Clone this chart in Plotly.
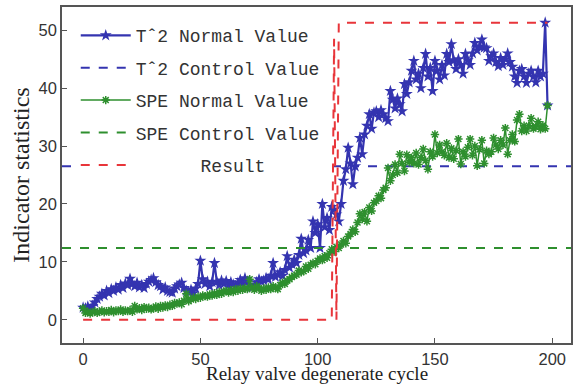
import plotly.graph_objects as go

cycles = list(range(0, 199))

t2_normal = [
    2.1, 2.0, 2.3, 1.9, 2.4, 3.0, 3.6, 4.0, 4.5, 4.2,
    5.0, 4.6, 5.3, 5.0, 5.6, 5.2, 6.0, 5.5, 6.3, 6.0,
    7.1, 6.2, 5.8, 6.4, 5.6, 6.0, 5.5, 6.2, 6.6, 6.9,
    7.2, 6.5, 6.0, 5.8, 5.2, 5.6, 5.0, 4.8, 4.7, 5.4,
    5.8, 6.1, 6.4, 5.5, 5.0, 4.8, 5.2, 4.6, 5.4, 6.2,
    10.2, 7.0, 6.2, 6.6, 5.8, 6.5, 9.8, 6.6, 6.0, 6.8,
    6.2, 6.7, 6.0, 6.5, 6.1, 5.8, 6.4, 6.9, 6.3, 7.2,
    6.6, 6.0, 5.6, 5.9, 6.5, 7.0, 6.6, 6.8, 7.2, 7.0,
    7.6, 9.8, 7.4, 7.8, 8.2, 7.6, 8.6, 11.0, 9.0, 9.6,
    10.4, 9.8, 11.2, 14.0, 11.5, 12.0, 13.8, 12.4, 17.0, 15.0,
    16.5, 12.4, 20.0, 16.0, 17.6, 15.5, 19.5, 19.0, 18.2, 17.0,
    20.0, 24.0, 26.0, 29.7, 27.0, 23.4, 26.5, 28.0, 31.4, 28.6,
    32.0, 33.5, 35.5, 33.0, 35.8, 36.0, 35.0, 36.2, 35.5, 34.8,
    34.3, 39.5, 38.0, 36.5, 38.2, 37.2, 36.0, 40.7, 39.0, 41.0,
    43.0, 44.7, 41.5, 42.5, 40.0, 43.5, 45.9, 42.0, 43.5, 39.5,
    44.7, 43.0, 41.5, 44.0, 42.2, 45.9, 44.5, 47.6, 44.8, 43.3,
    45.0, 44.0, 42.5, 45.9, 44.8, 44.0, 46.0, 47.8, 46.5, 47.2,
    48.4, 47.0, 46.9, 44.7, 45.5, 46.0, 44.5, 43.8, 45.2, 44.0,
    45.0, 46.0, 44.5, 43.7, 42.0, 40.9, 43.0, 43.3, 42.0, 40.9,
    42.5, 43.0, 42.0, 41.0, 43.0, 42.0, 42.5, 51.3, 37.0,
]

spe_normal = [
    2.0, 1.2, 1.4, 1.1, 1.3, 1.5, 1.2, 1.4, 1.6, 1.3,
    1.5, 1.4, 1.7, 1.3, 1.6, 1.5, 1.8, 1.4, 1.6, 1.5,
    1.7, 1.4, 2.4, 1.8, 2.0, 1.7, 2.2, 1.9, 2.1, 1.8,
    2.0, 2.3, 1.9, 2.4, 2.1, 2.5, 2.2, 2.6, 2.4, 2.9,
    2.8, 3.0, 2.7, 3.3, 4.5, 3.2, 3.5, 3.8, 3.6, 4.0,
    3.8, 4.2, 4.1, 4.0, 4.4, 4.2, 4.6, 4.3, 4.8, 4.5,
    4.9, 5.0, 4.7, 5.1, 4.8, 5.3, 5.0, 5.4, 5.2, 5.5,
    5.3, 7.0, 5.6, 5.2, 5.8, 5.5, 5.0, 5.4, 5.2, 5.6,
    5.3, 5.8, 5.5, 5.3, 6.0, 6.4, 6.2, 6.8, 7.0, 7.4,
    7.6, 7.8, 8.5, 8.2, 8.4, 9.2, 8.8, 9.5, 9.8, 9.6,
    10.2, 10.6, 10.3, 11.0, 10.7, 11.5, 12.2, 11.8, 12.6, 12.4,
    13.0, 13.6, 13.2, 14.4, 14.8, 15.6, 15.2, 16.8, 18.3, 17.4,
    18.6, 17.0, 19.4, 18.8, 20.2, 20.5, 21.4, 21.0, 22.4, 22.8,
    26.2, 24.0, 25.0, 26.8, 25.4, 28.6, 27.0, 25.7, 28.5, 27.2,
    28.0, 27.0, 28.8, 26.8, 28.0, 29.5, 27.5, 26.0, 29.0, 28.2,
    32.0, 28.8, 30.2, 29.0, 28.4, 30.5, 28.0, 29.6, 27.8, 29.2,
    31.2, 26.9, 29.0, 28.2, 29.8, 31.2, 28.4, 30.0, 26.6, 29.4,
    31.0, 27.0, 29.2, 28.6, 29.0, 31.4, 30.2, 29.5, 31.0, 30.2,
    33.1, 28.6, 31.0, 32.0, 30.8, 34.5, 35.5, 32.6, 33.5, 32.6,
    33.5, 34.8, 33.0, 33.4, 34.2, 32.9, 33.6, 33.0, 37.0,
]

result = [0.0] * 107 + [48.5, 0.0] + [51.3] * 90

t2_limit = 26.5
spe_limit = 12.4

x_range = [-9, 208]
y_range = [-4, 54]
x_ticks = [0, 50, 100, 150, 200]
y_ticks = [0, 10, 20, 30, 40, 50]

x_title = "Relay valve degenerate cycle"
y_title = "Indicator statistics"

NB = "\u00a0"
names = ["Tˆ2 Normal Value", "Tˆ2 Control Value", "SPE Normal Value",
         "SPE Control Value", NB * 6 + "Result"]

BLUE = "#3434b0"
GREEN = "#2e8f2e"
RED = "#e8353a"

fig = go.Figure()
fig.add_trace(go.Scatter(
    x=cycles, y=t2_normal, name=names[0], legendgroup="a", mode="lines+markers",
    line=dict(color=BLUE, width=2.2),
    marker=dict(symbol="star", size=9, color=BLUE)))
fig.add_trace(go.Scatter(
    x=x_range, y=[t2_limit, t2_limit], name=names[1], legendgroup="b", mode="lines",
    line=dict(color=BLUE, width=2, dash="dash")))
fig.add_trace(go.Scatter(
    x=cycles, y=spe_normal, name=names[2], legendgroup="c", mode="lines+markers",
    line=dict(color=GREEN, width=1.5),
    marker=dict(symbol="asterisk-open", size=7, color=GREEN, line=dict(color=GREEN, width=1.5))))
fig.add_trace(go.Scatter(
    x=x_range, y=[spe_limit, spe_limit], name=names[3], legendgroup="d", mode="lines",
    line=dict(color=GREEN, width=2, dash="dash")))
fig.add_trace(go.Scatter(
    x=cycles, y=result, name=names[4], legendgroup="e", mode="lines",
    line=dict(color=RED, width=2, dash="dash")))

axis_common = dict(
    showline=True, linecolor="#555555", linewidth=1.5, mirror=True,
    ticks="inside", ticklen=5, tickcolor="#555555", tickwidth=1,
    showgrid=False, zeroline=False, automargin=False,
    tickfont=dict(family="Liberation Sans, Arial", size=16.5, color="#333333"),
)

fig.update_layout(
    width=575, height=385,
    margin=dict(l=62, r=4, t=7, b=42),
    paper_bgcolor="white", plot_bgcolor="white",
    xaxis=dict(range=x_range, tickvals=x_ticks, **axis_common),
    yaxis=dict(range=y_range, tickvals=y_ticks,
               title=dict(text=y_title, standoff=2,
                          font=dict(family="Liberation Serif, Times New Roman", size=24, color="#222222")),
               **axis_common),
    legend=dict(x=0.027, y=0.97, xanchor="left", yanchor="top",
                bgcolor="white", borderwidth=0, tracegroupgap=6, itemwidth=50,
                font=dict(family="Liberation Mono, Courier New", size=18, color="#333333")),
    showlegend=True,
    annotations=[dict(text=x_title, xref="paper", yref="paper", x=0.5, y=-0.127,
                      xanchor="center", yanchor="bottom", showarrow=False,
                      font=dict(family="Liberation Serif, Times New Roman", size=19, color="#222222"))],
)

fig.write_html("out.html", config={"displayModeBar": False},
               post_script="document.body.style.margin='0';document.body.style.overflow='hidden';")
